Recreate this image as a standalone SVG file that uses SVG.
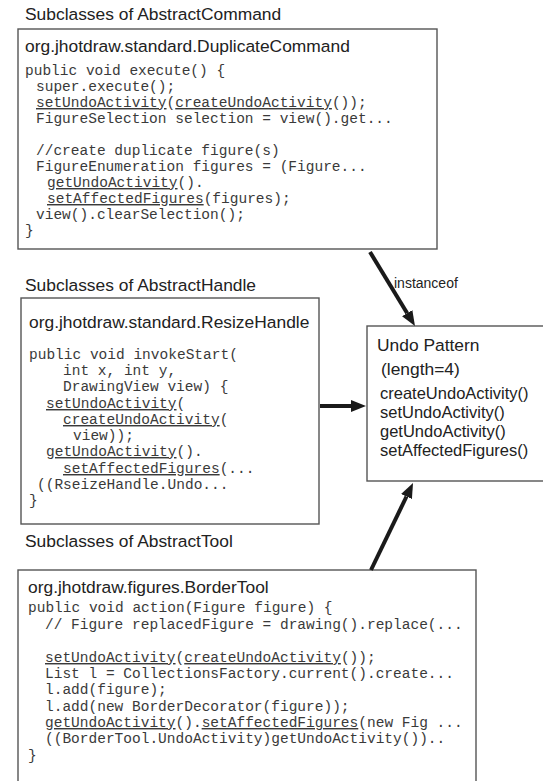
<svg xmlns="http://www.w3.org/2000/svg" width="543" height="781" viewBox="0 0 543 781">
<style>
.box{fill:#fff;stroke:#555;stroke-width:1.4}
.hd{font-family:"Liberation Sans",Arial,sans-serif;font-size:17.4px;fill:#222}
.up{font-family:"Liberation Sans",Arial,sans-serif;font-size:17.4px;fill:#222}
.um{font-family:"Liberation Sans",Arial,sans-serif;font-size:16.5px;fill:#222}
.lbl{font-family:"Liberation Sans",Arial,sans-serif;font-size:14px;fill:#222}
.cd{font-family:"Liberation Mono","Courier New",monospace;font-size:14.5px;fill:#3a3a3a}
.u{text-decoration:underline}
.arr{stroke:#1a1a1a;stroke-width:4;fill:none}
</style>
<defs>
<marker id="ah" viewBox="0 0 15 12" markerWidth="15" markerHeight="12" markerUnits="userSpaceOnUse" refX="0" refY="6" orient="auto">
<path d="M0,0 L15,6 L0,12 z" fill="#1a1a1a"/>
</marker>
</defs>
<rect width="543" height="781" fill="#fff"/>

<g id="command">
<text class="hd" x="25" y="20">Subclasses of AbstractCommand</text>
<rect class="box" x="18" y="29" width="419" height="220"/>
<text class="hd" x="25" y="52">org.jhotdraw.standard.DuplicateCommand</text>
<text class="cd" x="25" y="75">public void execute() {</text>
<text class="cd" x="36" y="91">super.execute();</text>
<text class="cd" x="36" y="107"><tspan class="u">setUndoActivity</tspan>(<tspan class="u">createUndoActivity</tspan>());</text>
<text class="cd" x="36" y="123">FigureSelection selection = view().get...</text>
<text class="cd" x="36" y="155">//create duplicate figure(s)</text>
<text class="cd" x="36" y="171">FigureEnumeration figures = (Figure...</text>
<text class="cd" x="47" y="187"><tspan class="u">getUndoActivity</tspan>().</text>
<text class="cd" x="47" y="203"><tspan class="u">setAffectedFigures</tspan>(figures);</text>
<text class="cd" x="36" y="219">view().clearSelection();</text>
<text class="cd" x="25" y="235">}</text>
</g>

<g id="handle">
<text class="hd" x="25" y="291">Subclasses of AbstractHandle</text>
<rect class="box" x="21" y="298" width="298" height="226"/>
<text class="hd" x="29" y="328">org.jhotdraw.standard.ResizeHandle</text>
<text class="cd" x="29" y="359">public void invokeStart(</text>
<text class="cd" x="63" y="375">int x, int y,</text>
<text class="cd" x="63" y="391">DrawingView view) {</text>
<text class="cd" x="46" y="408"><tspan class="u">setUndoActivity</tspan>(</text>
<text class="cd" x="63" y="424"><tspan class="u">createUndoActivity</tspan>(</text>
<text class="cd" x="73" y="440">view));</text>
<text class="cd" x="46" y="456"><tspan class="u">getUndoActivity</tspan>().</text>
<text class="cd" x="63" y="473"><tspan class="u">setAffectedFigures</tspan>(...</text>
<text class="cd" x="37" y="489">((RseizeHandle.Undo...</text>
<text class="cd" x="29" y="505">}</text>
</g>

<g id="tool">
<text class="hd" x="25" y="547">Subclasses of AbstractTool</text>
<rect class="box" x="18" y="570" width="458" height="230"/>
<text class="hd" x="28" y="593">org.jhotdraw.figures.BorderTool</text>
<text class="cd" x="28" y="612">public void action(Figure figure) {</text>
<text class="cd" x="45" y="629">// Figure replacedFigure = drawing().replace(...</text>
<text class="cd" x="45" y="662"><tspan class="u">setUndoActivity</tspan>(<tspan class="u">createUndoActivity</tspan>());</text>
<text class="cd" x="45" y="678">List l = CollectionsFactory.current().create...</text>
<text class="cd" x="45" y="694">l.add(figure);</text>
<text class="cd" x="45" y="711">l.add(new BorderDecorator(figure));</text>
<text class="cd" x="45" y="727"><tspan class="u">getUndoActivity</tspan>().<tspan class="u">setAffectedFigures</tspan>(new Fig ...</text>
<text class="cd" x="45" y="743">((BorderTool.UndoActivity)getUndoActivity())..</text>
<text class="cd" x="28" y="760">}</text>
</g>

<g id="undo">
<rect class="box" x="367" y="326" width="200" height="155"/>
<text class="up" x="377" y="351">Undo Pattern</text>
<text class="up" x="381" y="375">(length=4)</text>
<text class="um" x="380" y="399">createUndoActivity()</text>
<text class="um" x="380" y="418">setUndoActivity()</text>
<text class="um" x="380" y="437">getUndoActivity()</text>
<text class="um" x="380" y="456">setAffectedFigures()</text>
</g>

<g id="connectors">
<line class="arr" x1="370" y1="252" x2="407.2" y2="313.2" marker-end="url(#ah)"/>
<text class="lbl" x="394" y="288">instanceof</text>
<line class="arr" x1="320" y1="406" x2="351" y2="406" marker-end="url(#ah)"/>
<line class="arr" x1="371" y1="570" x2="406.5" y2="496.5" marker-end="url(#ah)"/>
</g>
</svg>
